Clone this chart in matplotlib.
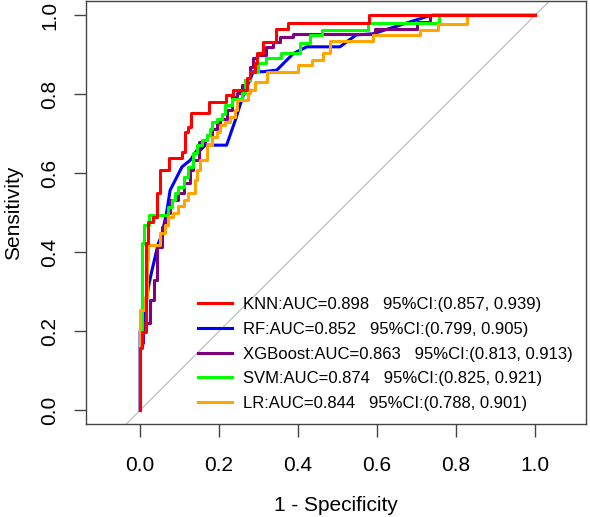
import numpy as np
import matplotlib.pyplot as plt

plt.rcParams['font.family'] = ['Liberation Sans', 'DejaVu Sans']

# step curves: (x of each vertical step, tpr reached at that step)
knn_fpr = [0, 0, 0.005, 0.015, 0.02, 0.033, 0.043, 0.051, 0.074, 0.106, 0.114, 0.121, 0.129,
           0.175, 0.217, 0.236, 0.27, 0.278, 0.291, 0.296, 0.311, 0.344, 0.375, 0.58, 1.0]
knn_tpr = [0, 0.157, 0.197, 0.423, 0.476, 0.489, 0.549, 0.608, 0.638, 0.653, 0.704, 0.716, 0.752,
           0.78, 0.797, 0.81, 0.84, 0.856, 0.878, 0.904, 0.932, 0.965, 0.98, 1.0, 1.0]

svm_fpr = [0, 0, 0.005, 0.01, 0.023, 0.071, 0.08, 0.089, 0.097, 0.11, 0.122, 0.135, 0.144, 0.156,
           0.169, 0.177, 0.183, 0.194, 0.208, 0.215, 0.232, 0.257, 0.266, 0.278, 0.299, 0.319,
           0.357, 0.405, 0.43, 0.461, 0.577, 0.757, 1.0]
svm_tpr = [0, 0.16, 0.423, 0.468, 0.494, 0.514, 0.532, 0.549, 0.565, 0.591, 0.616, 0.65, 0.671, 0.684,
           0.696, 0.713, 0.73, 0.738, 0.751, 0.772, 0.789, 0.802, 0.835, 0.856, 0.878, 0.891,
           0.904, 0.929, 0.949, 0.962, 0.98, 1.0, 1.0]

xgb_fpr = [0, 0, 0.008, 0.025, 0.034, 0.043, 0.055, 0.062, 0.068, 0.076, 0.097, 0.11, 0.127, 0.135,
           0.148, 0.165, 0.169, 0.181, 0.194, 0.203, 0.219, 0.232, 0.245, 0.257, 0.266, 0.278,
           0.286, 0.296, 0.319, 0.337, 0.354, 0.387, 0.595, 0.7, 0.734, 1.0]
xgb_tpr = [0, 0.17, 0.22, 0.278, 0.329, 0.413, 0.464, 0.48, 0.5, 0.532, 0.549, 0.574, 0.608, 0.633,
           0.679, 0.684, 0.696, 0.713, 0.726, 0.738, 0.759, 0.793, 0.802, 0.823, 0.835, 0.869,
           0.891, 0.899, 0.919, 0.932, 0.944, 0.952, 0.964, 0.982, 1.0, 1.0]

lr_fpr = [0, 0, 0.013, 0.017, 0.021, 0.05, 0.063, 0.071, 0.084, 0.097, 0.11, 0.122, 0.139, 0.144,
          0.152, 0.169, 0.181, 0.194, 0.203, 0.215, 0.228, 0.241, 0.245, 0.274, 0.278, 0.29,
          0.321, 0.401, 0.434, 0.463, 0.481, 0.59, 0.709, 0.754, 0.828, 1.0]
lr_tpr = [0, 0.253, 0.287, 0.38, 0.418, 0.448, 0.468, 0.489, 0.5, 0.516, 0.532, 0.55, 0.582, 0.608,
          0.633, 0.671, 0.692, 0.705, 0.722, 0.73, 0.743, 0.759, 0.785, 0.802, 0.81, 0.831,
          0.857, 0.873, 0.887, 0.904, 0.934, 0.949, 0.963, 0.978, 1.0, 1.0]

# RF has tied scores -> plain polyline
rf_fpr = [0, 0, 0.008, 0.008, 0.013, 0.021, 0.03, 0.038, 0.046, 0.055, 0.068, 0.076, 0.106, 0.127,
          0.144, 0.152, 0.165, 0.219, 0.241, 0.257, 0.27, 0.278, 0.286, 0.312, 0.346, 0.388,
          0.422, 0.506, 0.547, 0.59, 0.727, 0.74, 1.0]
rf_tpr = [0, 0.2, 0.2, 0.22, 0.253, 0.312, 0.354, 0.388, 0.422, 0.443, 0.506, 0.557, 0.616, 0.633,
          0.658, 0.658, 0.671, 0.671, 0.734, 0.785, 0.819, 0.835, 0.857, 0.857, 0.861, 0.903,
          0.92, 0.92, 0.95, 0.953, 0.997, 1.0, 1.0]

labels = ['KNN:AUC=0.898   95%CI:(0.857, 0.939)',
          'RF:AUC=0.852   95%CI:(0.799, 0.905)',
          'XGBoost:AUC=0.863   95%CI:(0.813, 0.913)',
          'SVM:AUC=0.874   95%CI:(0.825, 0.921)',
          'LR:AUC=0.844   95%CI:(0.788, 0.901)']
colors = ['#FF0000', '#0000FF', '#800080', '#00FF00', '#FFA500']

fig = plt.figure(figsize=(5.9, 5.17), dpi=100)
ax = fig.add_axes([86 / 590, 93 / 517, 500 / 590, 423 / 517])

ax.axline((0, 0), (1, 1), color='#BEBEBE', lw=0.9, zorder=1)

lw = 2.2
ax.plot(knn_fpr, knn_tpr, drawstyle='steps-post', color=colors[0], lw=lw, label=labels[0], zorder=7)
ax.plot(rf_fpr, rf_tpr, color=colors[1], lw=lw, label=labels[1], zorder=3)
ax.plot(xgb_fpr, xgb_tpr, drawstyle='steps-post', color=colors[2], lw=lw, label=labels[2], zorder=4)
ax.plot(svm_fpr, svm_tpr, drawstyle='steps-post', color=colors[3], lw=lw, label=labels[3], zorder=5)
ax.plot(lr_fpr, lr_tpr, drawstyle='steps-post', color=colors[4], lw=lw, label=labels[4], zorder=6)

ax.set_xlim(-0.137, 1.129)
ax.set_ylim(-0.035, 1.036)
ticks = np.arange(0, 1.01, 0.2)
ax.set_xticks(ticks)
ax.set_yticks(ticks)
ax.set_xticklabels(['%.1f' % t for t in ticks])
ax.set_yticklabels(['%.1f' % t for t in ticks], rotation=90, va='center')
ax.tick_params(length=9, width=1, color='#444444', labelsize=15)
ax.tick_params(axis='x', pad=14)
ax.tick_params(axis='y', pad=10)
for s in ax.spines.values():
    s.set_color('#444444')
    s.set_linewidth(1)

ax.set_xlabel('1 - Specificity', fontsize=15, labelpad=15)
ax.set_ylabel('Sensitivity', fontsize=15, labelpad=13)

ax.legend(loc='lower left', bbox_to_anchor=(0.224, 0.031), frameon=False, fontsize=12,
          handlelength=2.05, handletextpad=0.66, labelspacing=0.58, borderpad=0,
          borderaxespad=0)

fig.savefig('out.png', dpi=100)
